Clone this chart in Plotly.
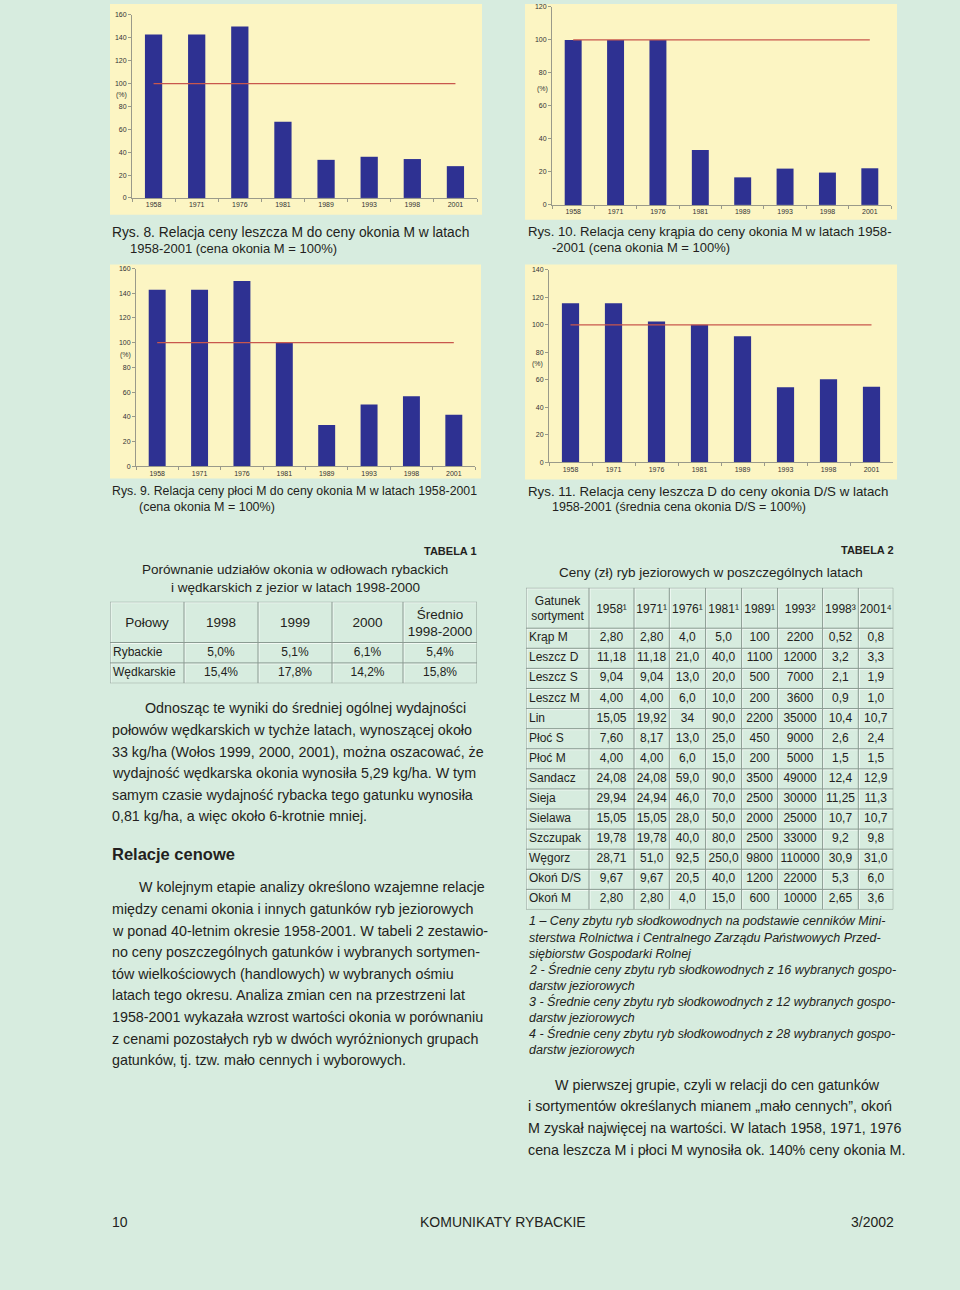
import plotly.graph_objects as go

W, H = 960, 1290

# ---------------- data ----------------
years = ["1958", "1971", "1976", "1981", "1989", "1993", "1998", "2001"]
rys8_leszcz_m = [142.9, 142.9, 150.0, 66.7, 33.3, 36.0, 34.0, 27.8]
rys10_krap = [100.0, 100.0, 100.0, 33.3, 16.7, 22.0, 19.6, 22.2]
rys9_ploc_m = [142.9, 142.9, 150.0, 100.0, 33.3, 50.0, 56.6, 41.7]
rys11_leszcz_d = [115.6, 115.6, 102.4, 100.0, 91.7, 54.5, 60.4, 55.0]
okon_base = [100, 100, 100, 100, 100, 100, 100, 100]
y_max = [160, 120, 160, 140]

t1_header = ["Połowy", "1998", "1999", "2000", "Średnio<br>1998-2000"]
t1_polowy = ["Rybackie", "Wędkarskie"]
t1_1998 = ["5,0%", "15,4%"]
t1_1999 = ["5,1%", "17,8%"]
t1_2000 = ["6,1%", "14,2%"]
t1_srednio = ["5,4%", "15,8%"]

t2_header = ["Gatunek<br>sortyment", "1958¹", "1971¹", "1976¹", "1981¹", "1989¹", "1993²", "1998³", "2001⁴"]
t2_gatunek = ["Krąp M", "Leszcz D", "Leszcz S", "Leszcz M", "Lin", "Płoć S", "Płoć M", "Sandacz",
              "Sieja", "Sielawa", "Szczupak", "Węgorz", "Okoń D/S", "Okoń M"]
t2_1958 = ["2,80", "11,18", "9,04", "4,00", "15,05", "7,60", "4,00", "24,08", "29,94", "15,05", "19,78", "28,71", "9,67", "2,80"]
t2_1971 = ["2,80", "11,18", "9,04", "4,00", "19,92", "8,17", "4,00", "24,08", "24,94", "15,05", "19,78", "51,0", "9,67", "2,80"]
t2_1976 = ["4,0", "21,0", "13,0", "6,0", "34", "13,0", "6,0", "59,0", "46,0", "28,0", "40,0", "92,5", "20,5", "4,0"]
t2_1981 = ["5,0", "40,0", "20,0", "10,0", "90,0", "25,0", "15,0", "90,0", "70,0", "50,0", "80,0", "250,0", "40,0", "15,0"]
t2_1989 = ["100", "1100", "500", "200", "2200", "450", "200", "3500", "2500", "2000", "2500", "9800", "1200", "600"]
t2_1993 = ["2200", "12000", "7000", "3600", "35000", "9000", "5000", "49000", "30000", "25000", "33000", "110000", "22000", "10000"]
t2_1998 = ["0,52", "3,2", "2,1", "0,9", "10,4", "2,6", "1,5", "12,4", "11,25", "10,7", "9,2", "30,9", "5,3", "2,65"]
t2_2001 = ["0,8", "3,3", "1,9", "1,0", "10,7", "2,4", "1,5", "12,9", "11,3", "10,7", "9,8", "31,0", "6,0", "3,6"]

# ---------------- style ----------------
BG = "#d7ecdf"
PANEL = "#fcf5c3"
BAR = "#2e3192"
RED = "#c8574d"
TXT = "#231f20"
AX = "#9a9a8a"
GRID_D = "#8a9a91"
GRID_L = "#f3faf5"
SANS = "Liberation Sans, Arial, Helvetica, sans-serif"


def fx(x):
    return x / W


def fy(y):
    return 1 - y / H


charts = [
    dict(vals=rys8_leszcz_m, ymax=y_max[0], box=(132, 477, 11, 195), panel=(110, 0, 482, 212), pct=(114, 91)),
    dict(vals=rys10_krap, ymax=y_max[1], box=(552, 891, 3, 202), panel=(525, 0, 897, 217), pct=(535, 85)),
    dict(vals=rys9_ploc_m, ymax=y_max[2], box=(136, 475, 266, 464.7), panel=(110, 262, 481, 477), pct=(118, 353)),
    dict(vals=rys11_leszcz_d, ymax=y_max[3], box=(549, 893, 267.3, 460.7), panel=(525, 262, 897, 478), pct=(530, 362)),
]

fig = go.Figure()
shapes = []
annotations = []
layout_axes = {}

for i, c in enumerate(charts, start=1):
    xa = "x" if i == 1 else f"x{i}"
    ya = "y" if i == 1 else f"y{i}"
    fig.add_trace(go.Bar(x=years, y=c["vals"], marker=dict(color=BAR, line=dict(width=0)),
                         xaxis=xa, yaxis=ya, showlegend=False, hoverinfo="x+y"))
    fig.add_trace(go.Scatter(x=years, y=okon_base, mode="lines", line=dict(color=RED, width=1.2),
                             xaxis=xa, yaxis=ya, showlegend=False, hoverinfo="skip"))
    x0, x1, y0, y1 = c["box"]
    key = "" if i == 1 else str(i)
    layout_axes["xaxis" + key] = dict(
        domain=[fx(x0), fx(x1)], anchor=ya, type="category", showline=True, linecolor=AX, linewidth=1,
        ticks="outside", tickson="boundaries", ticklen=3, tickcolor=AX, showgrid=False,
        tickfont=dict(size=7, color="#333", family=SANS), fixedrange=True)
    layout_axes["yaxis" + key] = dict(
        domain=[fy(y1), fy(y0)], anchor=xa, range=[0, c["ymax"]], dtick=20, showline=True, linecolor=AX,
        linewidth=1, ticks="outside", ticklen=3, tickcolor=AX, showgrid=False, zeroline=False,
        tickfont=dict(size=7, color="#333", family=SANS), fixedrange=True)
    px0, py0, px1, py1 = c["panel"]
    shapes.append(dict(type="rect", xref="paper", yref="paper", x0=fx(px0), x1=fx(px1), y0=fy(py1), y1=fy(py0),
                       fillcolor=PANEL, line=dict(width=0), layer="below"))
    annotations.append(dict(text="(%)", x=fx(c["pct"][0]), y=fy(c["pct"][1]), xref="paper", yref="paper",
                            xanchor="left", yanchor="middle", showarrow=False,
                            font=dict(size=7, color="#333", family=SANS)))


def ann(text, x, y, size, xanchor="left"):
    annotations.append(dict(text=text, x=fx(x), y=fy(y), xref="paper", yref="paper", xanchor=xanchor,
                            yanchor="middle", showarrow=False, align="left",
                            font=dict(size=size, color=TXT, family=SANS)))


# captions
ann("Rys. 8. Relacja ceny leszcza M do ceny okonia M w latach", 110, 230, 13.8)
ann("1958-2001 (cena okonia M = 100%)", 128, 246, 13)
ann("Rys. 10. Relacja ceny krąpia do ceny okonia M w latach 1958-", 526, 229, 13.2)
ann("-2001 (cena okonia M = 100%)", 550, 245, 13)
ann("Rys. 9. Relacja ceny płoci M do ceny okonia M w latach 1958-2001", 110, 490, 12.3)
ann("(cena okonia M = 100%)", 137, 506, 12.5)
ann("Rys. 11. Relacja ceny leszcza D do ceny okonia D/S w latach", 526, 490, 13.3)
ann("1958-2001 (średnia cena okonia D/S = 100%)", 550, 506, 12.5)

# table titles
ann("<b>TABELA 1</b>", 479, 550, 11, xanchor="right")
ann("Porównanie udziałów okonia w odłowach rybackich", 295, 569, 13.5, xanchor="center")
ann("i wędkarskich z jezior w latach 1998-2000", 295, 587, 13.5, xanchor="center")
ann("<b>TABELA 2</b>", 896, 549, 11, xanchor="right")
ann("Ceny (zł) ryb jeziorowych w poszczególnych latach", 711, 572, 13.5, xanchor="center")

# left body text
BODY = 14.3
left1 = ["Odnosząc te wyniki do średniej ogólnej wydajności",
         "połowów wędkarskich w tychże latach, wynoszącej około",
         "33 kg/ha (Wołos 1999, 2000, 2001), można oszacować, że",
         "wydajność wędkarska okonia wynosiła 5,29 kg/ha. W tym",
         "samym czasie wydajność rybacka tego gatunku wynosiła",
         "0,81 kg/ha, a więc około 6-krotnie mniej."]
for k, line in enumerate(left1):
    ann(line, 143 if k == 0 else 110, 708.3 + k * 21.7, BODY)
ann("<b>Relacje cenowe</b>", 110, 855, 16.5)
left2 = ["W kolejnym etapie analizy określono wzajemne relacje",
         "między cenami okonia i innych gatunków ryb jeziorowych",
         "w ponad 40-letnim okresie 1958-2001. W tabeli 2 zestawio-",
         "no ceny poszczególnych gatunków i wybranych sortymen-",
         "tów wielkościowych (handlowych) w wybranych ośmiu",
         "latach tego okresu. Analiza zmian cen na przestrzeni lat",
         "1958-2001 wykazała wzrost wartości okonia w porównaniu",
         "z cenami pozostałych ryb w dwóch wyróżnionych grupach",
         "gatunków, tj. tzw. mało cennych i wyborowych."]
for k, line in enumerate(left2):
    ann(line, 137 if k == 0 else 110, 888.3 + k * 21.7, BODY)

# footnotes
notes = ["1 – Ceny zbytu ryb słodkowodnych na podstawie cenników Mini-",
         "sterstwa Rolnictwa i Centralnego Zarządu Państwowych Przed-",
         "siębiorstw Gospodarki Rolnej",
         "2 - Średnie ceny zbytu ryb słodkowodnych z 16 wybranych gospo-",
         "darstw jeziorowych",
         "3 - Średnie ceny zbytu ryb słodkowodnych z 12 wybranych gospo-",
         "darstw jeziorowych",
         "4 - Średnie ceny zbytu ryb słodkowodnych z 28 wybranych gospo-",
         "darstw jeziorowych"]
for k, line in enumerate(notes):
    ann("<i>" + line + "</i>", 527, 922.5 + k * 16.1, 12.5)

right1 = ["W pierwszej grupie, czyli w relacji do cen gatunków",
          "i sortymentów określanych mianem „mało cennych”, okoń",
          "M zyskał najwięcej na wartości. W latach 1958, 1971, 1976",
          "cena leszcza M i płoci M wynosiła ok. 140% ceny okonia M."]
for k, line in enumerate(right1):
    ann(line, 553 if k == 0 else 526, 1086.7 + k * 21.7, BODY)

# footer
ann("10", 110, 1225, 14)
ann("KOMUNIKATY RYBACKIE", 503, 1225, 14, xanchor="center")
ann("3/2002", 896, 1225, 14, xanchor="right")


# ---------------- tables on hidden pixel-unit axes ----------------
def add_table(n, left, top, widths, hdr_h, row_h, header, columns, hdr_size, cell_size, hdr_y):
    xa, ya = f"x{n}", f"y{n}"
    nrows = len(columns[0])
    total_w = sum(widths)
    total_h = hdr_h + nrows * row_h
    bounds = [0]
    for w in widths:
        bounds.append(bounds[-1] + w)
    centers = [(bounds[j] + bounds[j + 1]) / 2 for j in range(len(widths))]
    layout_axes[f"xaxis{n}"] = dict(domain=[fx(left), fx(left + total_w)], range=[0, total_w], visible=False,
                                    fixedrange=True, anchor=ya)
    layout_axes[f"yaxis{n}"] = dict(domain=[fy(top + total_h), fy(top)], range=[total_h, 0], visible=False,
                                    fixedrange=True, anchor=xa)
    rows_y = [0, hdr_h] + [hdr_h + (k + 1) * row_h for k in range(nrows)]
    # etched grid: light line offset by 1px, then dark line
    for col, off in ((GRID_L, 1), (GRID_D, 0)):
        for b in bounds:
            shapes.append(dict(type="line", xref=xa, yref=ya, x0=b + off, x1=b + off, y0=0, y1=total_h,
                               line=dict(color=col, width=1)))
        for r in rows_y:
            shapes.append(dict(type="line", xref=xa, yref=ya, x0=0, x1=total_w, y0=r + off, y1=r + off,
                               line=dict(color=col, width=1)))
    fig.add_trace(go.Scatter(x=centers, y=[hdr_y] * len(header), text=header, mode="text",
                             textposition="middle center", xaxis=xa, yaxis=ya, cliponaxis=False,
                             textfont=dict(size=hdr_size, color=TXT, family=SANS), hoverinfo="skip",
                             showlegend=False))
    ys = [hdr_h + (k + 0.5) * row_h for k in range(nrows)]
    for j, colvals in enumerate(columns):
        if j == 0:
            xs = [bounds[0] + 3] * nrows
            pos = "middle right"
        else:
            xs = [centers[j]] * nrows
            pos = "middle center"
        fig.add_trace(go.Scatter(x=xs, y=ys, text=colvals, mode="text", textposition=pos,
                                 xaxis=xa, yaxis=ya, cliponaxis=False,
                                 textfont=dict(size=cell_size, color=TXT, family=SANS), hoverinfo="skip",
                                 showlegend=False))


add_table(5, 110, 601, [74, 74, 74, 71, 74], 41, 20.5, t1_header,
          [t1_polowy, t1_1998, t1_1999, t1_2000, t1_srednio], 13.5, 12, 22.5)
add_table(6, 526, 587, [63, 45, 35.3, 36.3, 36, 36, 45, 35.7, 35], 40.6, 20.2, t2_header,
          [t2_gatunek, t2_1958, t2_1971, t2_1976, t2_1981, t2_1989, t2_1993, t2_1998, t2_2001], 12, 12, 22)

fig.update_layout(
    width=W, height=H, autosize=False, margin=dict(l=0, r=0, t=0, b=0, pad=0),
    paper_bgcolor=BG, plot_bgcolor="rgba(0,0,0,0)", bargap=0.6, showlegend=False,
    shapes=shapes, annotations=annotations, font=dict(family=SANS, color=TXT),
    **layout_axes,
)

fig.write_html("out.html", config={"displayModeBar": False},
               post_script="document.body.style.margin='0px';document.body.style.overflow='hidden';")
